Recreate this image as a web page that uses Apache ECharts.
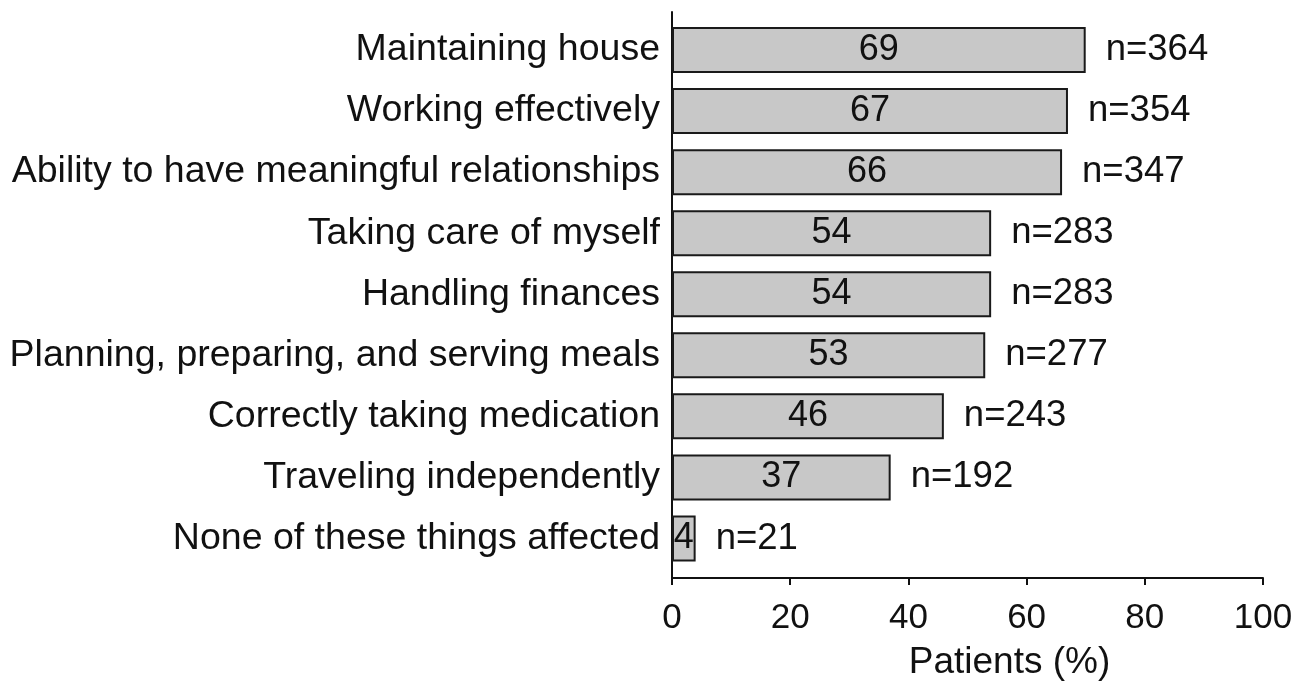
<!DOCTYPE html>
<html>
<head>
<meta charset="utf-8">
<script src="https://cdn.jsdelivr.net/npm/echarts@6/dist/echarts.min.js"></script>
<style>
  html, body { margin: 0; padding: 0; background: #fff; }
  #main { width: 1306px; height: 682px; }
</style>
</head>
<body>
<div id="main"></div>
<script>
"use strict"
// categories top to bottom
const categories = [
    'Maintaining house',
    'Working effectively',
    'Ability to have meaningful relationships',
    'Taking care of myself',
    'Handling finances',
    'Planning, preparing, and serving meals',
    'Correctly taking medication',
    'Traveling independently',
    'None of these things affected'
];
// bar lengths (%)
const barValues = [70, 67, 66, 54, 54, 53, 46, 37, 4];
// printed labels
const pctLabels = [69, 67, 66, 54, 54, 53, 46, 37, 4];
const nCounts = [364, 354, 347, 283, 283, 277, 243, 192, 21];
const xTicks = [0, 20, 40, 60, 80, 100];

const fontName = 'Liberation Sans, Arial, sans-serif';
const ink = '#111';

let chart = echarts.init(document.getElementById('main'));

let option = {
    backgroundColor: '#fff',
    animation: false,
    grid: [
        // bars
        {left: 672, right: 43, top: 19.5, bottom: 113, outerBoundsMode: 'none', containLabel: false},
        // axes frame
        {left: 672, right: 43, top: 12, bottom: 104, outerBoundsMode: 'none', containLabel: false}
    ],
    xAxis: [
        {gridIndex: 0, type: 'value', min: 0, max: 100, show: false},
        {
            gridIndex: 1, type: 'value', min: 0, max: 100, interval: 20,
            name: 'Patients (%)',
            nameLocation: 'middle',
            nameGap: 66,
            nameTextStyle: {fontFamily: fontName, fontSize: 37, color: ink, padding: [0, 0, 0, 84]},
            axisLine: {show: true, lineStyle: {color: ink, width: 2}},
            axisTick: {show: true, length: 7, lineStyle: {color: ink, width: 2}},
            axisLabel: {
                fontFamily: fontName, fontSize: 35, color: ink, margin: 23,
                formatter: function (v) { return xTicks.indexOf(v) >= 0 ? String(v) : ''; }
            },
            splitLine: {show: false}
        }
    ],
    yAxis: [
        {
            gridIndex: 0, type: 'category', data: categories, inverse: true,
            axisLine: {show: false},
            axisTick: {show: false},
            axisLabel: {fontFamily: fontName, fontSize: 37.5, color: ink, margin: 12, padding: [5, 0, 0, 0]}
        },
        {
            gridIndex: 1, type: 'value', min: 0, max: 1,
            axisLine: {show: true, lineStyle: {color: ink, width: 2}},
            axisTick: {show: false},
            axisLabel: {show: false},
            splitLine: {show: false}
        }
    ],
    series: [
        {
            type: 'bar',
            xAxisIndex: 0, yAxisIndex: 0,
            data: barValues,
            barWidth: 46,
            itemStyle: {color: '#c8c8c8', borderColor: '#1a1a1a', borderWidth: 2},
            label: {
                show: true, position: 'inside',
                fontFamily: fontName, fontSize: 36, color: ink,
                formatter: function (p) { return String(pctLabels[p.dataIndex]); }
            },
            z: 3
        },
        {
            type: 'bar',
            xAxisIndex: 0, yAxisIndex: 0,
            data: barValues,
            barWidth: 46,
            barGap: '-100%',
            silent: true,
            itemStyle: {color: 'rgba(0,0,0,0)'},
            label: {
                show: true, position: 'right', distance: 20,
                fontFamily: fontName, fontSize: 36.5, color: ink,
                formatter: function (p) { return 'n=' + nCounts[p.dataIndex]; }
            },
            z: 4
        }
    ]
};

chart.setOption(option);
</script>
</body>
</html>
